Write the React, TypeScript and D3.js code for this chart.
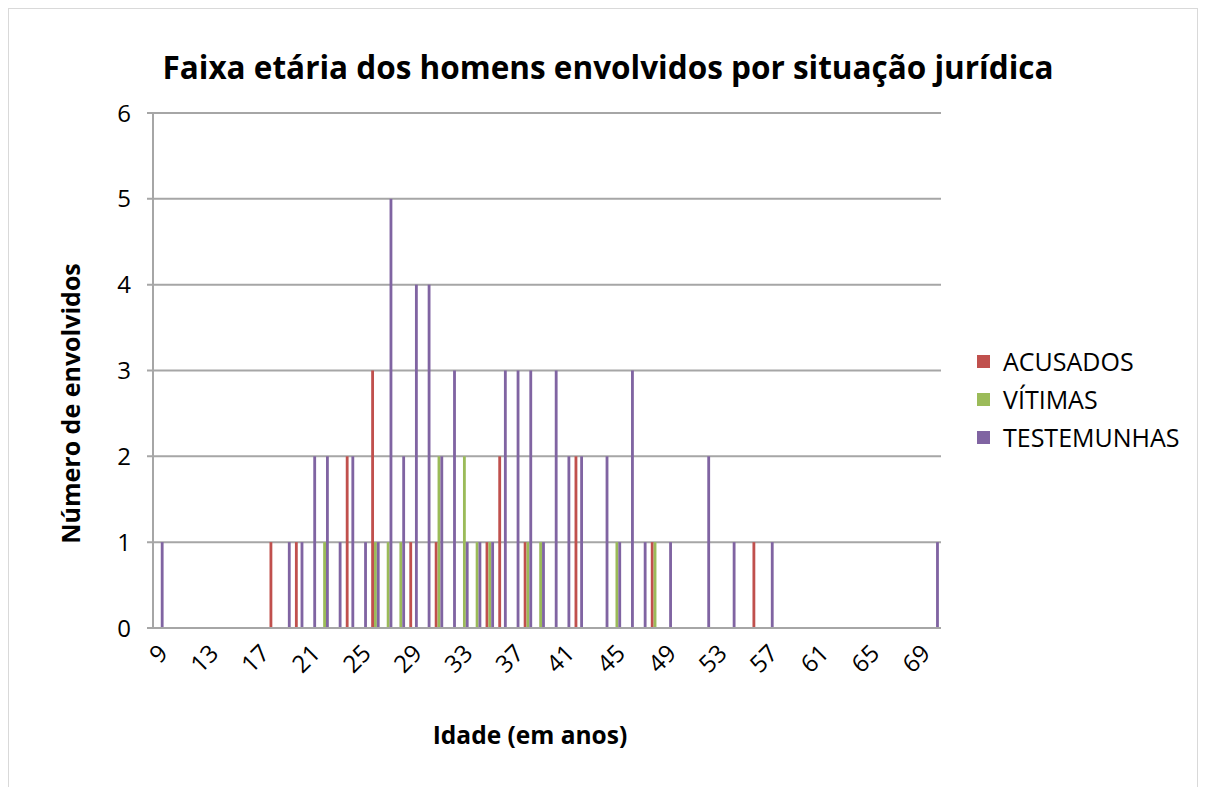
import React from "react";
import * as d3 from "d3";

const ages: number[] = d3.range(9, 71);
const seriesNames = ["ACUSADOS", "VÍTIMAS", "TESTEMUNHAS"];
const seriesColors = ["#c0504d", "#9bbb59", "#8064a2"];

// values per age 9..70
const acusados: [number, number][] = [
  [18, 1], [20, 1], [24, 2], [26, 3], [29, 1], [31, 1], [35, 1], [36, 2], [38, 1], [42, 2], [48, 1], [56, 1],
];
const vitimas: [number, number][] = [
  [22, 1], [26, 1], [27, 1], [28, 1], [31, 2], [33, 2], [34, 1], [35, 1], [38, 1], [39, 1], [45, 1], [48, 1],
];
const testemunhas: [number, number][] = [
  [9, 1], [19, 1], [20, 1], [21, 2], [22, 2], [23, 1], [24, 2], [25, 1], [26, 1], [27, 5], [28, 2], [29, 4],
  [30, 4], [31, 2], [32, 3], [33, 1], [34, 1], [35, 1], [36, 3], [37, 3], [38, 3], [39, 1], [40, 3], [41, 2],
  [42, 2], [44, 2], [45, 1], [46, 3], [47, 1], [49, 1], [52, 2], [54, 1], [57, 1], [70, 1],
];
const yTicks = [0, 1, 2, 3, 4, 5, 6];
const xTickLabels = ages.filter((a) => (a - 9) % 4 === 0);

const title = "Faixa etária dos homens envolvidos por situação jurídica";
const yTitle = "Número de envolvidos";
const xTitle = "Idade (em anos)";

const W = 1207;
const H = 787;
const plot = { left: 153, right: 941, top: 113, bottom: 628 };
const FONT = "'Open Sans', sans-serif";

export default function App() {
  const x = d3.scaleBand<number>().domain(ages).range([plot.left, plot.right]).paddingInner(0).paddingOuter(0);
  const xs = d3.scaleBand<number>().domain([0, 1, 2]).range([0, x.bandwidth()]).paddingInner(0).paddingOuter(0.75);
  const y = d3.scaleLinear().domain([0, 6]).range([plot.bottom, plot.top]);
  const all = [acusados, vitimas, testemunhas];

  return (
    <svg width={W} height={H} style={{ position: "absolute", left: 0, top: 0, background: "#fff" }}>
      <rect x={8.5} y={8.5} width={1189} height={820} fill="#fff" stroke="#d9d9d9" strokeWidth={1} />
      <text x={608} y={79} textAnchor="middle" fontFamily={FONT} fontWeight={700} fontSize={31.5} fill="#000">
        {title}
      </text>
      {/* grid */}
      {yTicks.map((t) => (
        <g key={t}>
          <line x1={plot.left - 6} x2={plot.right} y1={y(t)} y2={y(t)} stroke="#a6a6a6" strokeWidth={2} />
          <text x={131} y={y(t)} dy="0.36em" textAnchor="end" fontFamily={FONT} fontSize={24} fill="#000">
            {t}
          </text>
        </g>
      ))}
      <line x1={plot.left} x2={plot.left} y1={plot.top} y2={plot.bottom} stroke="#a6a6a6" strokeWidth={2} />
      {/* bars */}
      {all.map((s, si) =>
        s.map(([age, v]) => (
          <rect
            key={si + "-" + age}
            x={(x(age) as number) + (xs(si) as number)}
            y={y(v)}
            width={xs.bandwidth()}
            height={y(0) - y(v)}
            fill={seriesColors[si]}
          />
        ))
      )}
      <line x1={plot.left} x2={plot.right} y1={plot.bottom} y2={plot.bottom} stroke="#a6a6a6" strokeWidth={2} />
      {/* x labels */}
      {xTickLabels.map((a) => {
        const cx = (x(a) as number) + x.bandwidth() / 2 - 2;
        const cy = plot.bottom + 15;
        return (
          <text
            key={a}
            x={cx}
            y={cy}
            textAnchor="end"
            dy="0.7em"
            transform={`rotate(-45 ${cx} ${cy})`}
            fontFamily={FONT}
            fontSize={24}
            fill="#000"
          >
            {a}
          </text>
        );
      })}
      <text
        transform={`translate(80 ${(plot.top + plot.bottom) / 2 + 33}) rotate(-90)`}
        textAnchor="middle"
        fontFamily={FONT}
        fontWeight={700}
        fontSize={25}
        fill="#000"
      >
        {yTitle}
      </text>
      <text x={530} y={744} textAnchor="middle" fontFamily={FONT} fontWeight={700} fontSize={24.5} fill="#000">
        {xTitle}
      </text>
      {/* legend */}
      {seriesNames.map((n, i) => (
        <g key={n} transform={`translate(977 ${355 + i * 38})`}>
          <rect x={0} y={0} width={13} height={13} fill={seriesColors[i]} />
          <text x={26} y={7} dy="0.36em" fontFamily={FONT} fontSize={25} fill="#000">
            {n}
          </text>
        </g>
      ))}
    </svg>
  );
}
